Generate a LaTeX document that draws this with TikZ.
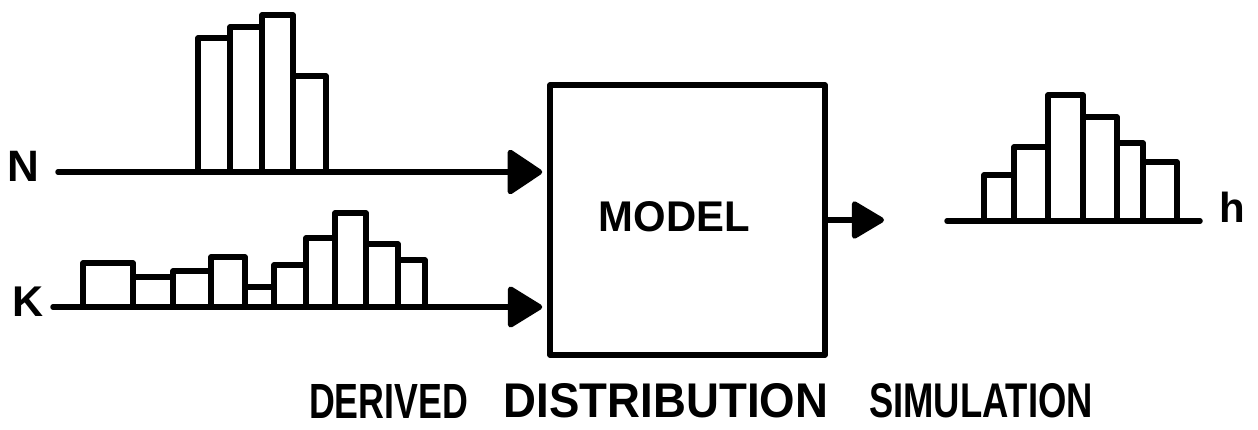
\documentclass[tikz,border=0pt]{standalone}
\usepackage{fontspec}
\setmainfont{Liberation Sans}
\usetikzlibrary{arrows.meta}
\newcommand{\fitword}[3]{\resizebox{#1pt}{#2pt}{\bfseries #3}}
\tikzset{
  ink/.style={line width=5.5pt, line cap=round, line join=round},
  bar/.style={ink},
  axisline/.style={ink},
  flow/.style={ink, -{Triangle[length=37pt,width=48pt,round]}},
  modelbox/.style={draw, line width=5.5pt, line join=round, minimum width=275pt, minimum height=270pt, inner sep=0pt},
  lettering/.style={inner sep=0pt, outer sep=0pt, font=\bfseries}
}
\begin{document}
\begin{tikzpicture}[x=1pt,y=-1pt]
\useasboundingbox (0,0) rectangle (1258,430);

% model box
\node[modelbox] (model) at (687.5,220) {};
\node[lettering] (modellabel) at (674.5,217) {\fitword{151}{30}{MODEL}};

% N input
\node[lettering] (nlab) at (23.5,166) {\fontsize{44pt}{44pt}\selectfont N};
\coordinate (nstart) at (58,172);
\draw[bar] (198,172) rectangle (230,38);
\draw[bar] (230,172) rectangle (262,27);
\draw[bar] (262,172) rectangle (293,15);
\draw[bar] (293,172) rectangle (326,76);
\draw[flow, shorten >=5pt] (nstart) -- (model.west |- nstart);

% K input
\node[lettering] (klab) at (28.5,301.5) {\fontsize{43pt}{43pt}\selectfont K};
\coordinate (kstart) at (53,307);
\draw[bar] (83,307) rectangle (133,263);
\draw[bar] (133,307) rectangle (173,277);
\draw[bar] (173,307) rectangle (211,271);
\draw[bar] (211,307) rectangle (245,257);
\draw[bar] (245,307) rectangle (274,287);
\draw[bar] (274,307) rectangle (306,265);
\draw[bar] (306,307) rectangle (335,238);
\draw[bar] (335,307) rectangle (366,213);
\draw[bar] (366,307) rectangle (398,244);
\draw[bar] (398,307) rectangle (425,260);
\draw[flow, -{Triangle[length=37pt,width=44pt,round]}, shorten >=5pt] (kstart) -- (model.west |- kstart);

% output
\coordinate (hout) at (884,220);
\draw[flow, -{Triangle[length=35pt,width=40pt,round]}] (model.east) -- (hout);

% h histogram
\coordinate (hleft) at (947,221);
\coordinate (hright) at (1200,221);
\draw[bar] (984,221) rectangle (1014,175);
\draw[bar] (1014,221) rectangle (1048,147);
\draw[bar] (1048,221) rectangle (1083,95);
\draw[bar] (1083,221) rectangle (1117,117);
\draw[bar] (1117,221) rectangle (1143,143);
\draw[bar] (1143,221) rectangle (1177,162);
\draw[axisline] (hleft) -- (hright);
\node[lettering] (hlab) at (1232.5,207.5) {\fontsize{42pt}{42pt}\selectfont h};

% caption
\node[lettering] (cap1) at (388.5,401) {\fitword{159}{34}{DERIVED}};
\node[lettering] (cap2) at (666,401) {\fitword{324}{34}{DISTRIBUTION}};
\node[lettering] (cap3) at (981,401) {\fitword{224}{34}{SIMULATION}};
\end{tikzpicture}
\end{document}
